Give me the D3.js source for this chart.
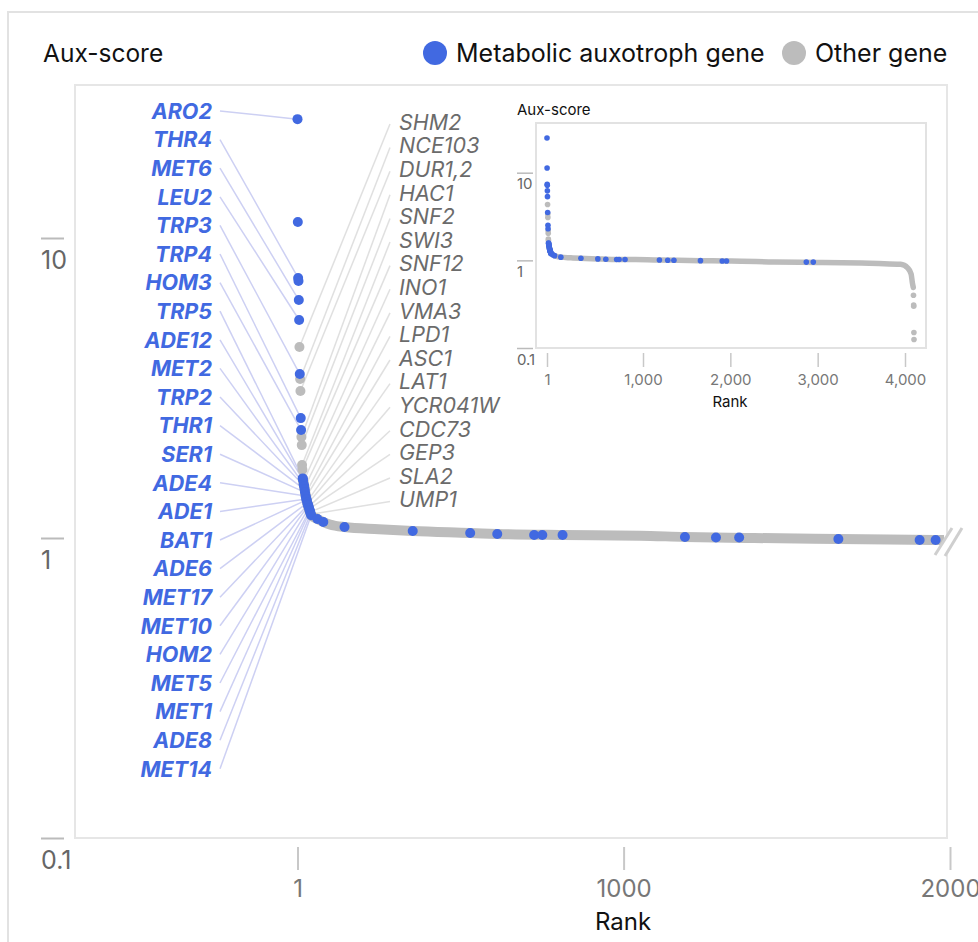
<!DOCTYPE html>
<html><head><meta charset="utf-8">
<script src="https://cdn.jsdelivr.net/npm/d3@7"></script>
<style>
html,body{margin:0;padding:0;background:#fff;}
svg{display:block;font-family:Inter,"Noto Sans",sans-serif;}
</style></head><body>
<svg id="chart" width="978" height="942"></svg>
<script>
// ---------------- DATA ----------------
// Top-ranked genes (rank = index + 1)
const topScores = [24.9, 11.3, 7.36, 7.19, 6.21, 5.33, 4.33, 3.52, 3.39, 3.09, 2.51, 2.29, 2.17, 2.04, 1.75, 1.69,
  1.58, 1.56, 1.54, 1.51, 1.49, 1.47, 1.45, 1.42, 1.40, 1.38, 1.37, 1.35, 1.34, 1.32, 1.31, 1.30, 1.29, 1.28,
  1.27, 1.26, 1.25, 1.24, 1.23, 1.22, 1.21, 1.20, 1.19];
const topTypes = ["aux","aux","aux","aux","aux","aux","other","aux","other","other","aux","aux","other","other","other","other",
  "aux","aux","other","aux","aux","other","aux","aux","other","aux","other","aux","aux","other","aux","other","aux","aux",
  "other","aux","other","aux","aux","other","aux","other","aux"];
const topLabels = ["ARO2","","THR4","","MET6","LEU2","SHM2","TRP3","NCE103","DUR1,2","TRP4","HOM3","HAC1","SNF2","SWI3","SNF12",
  "TRP5","ADE12","INO1","MET2","TRP2","VMA3","THR1","SER1","LPD1","ADE4","ASC1","ADE1","BAT1","LAT1","ADE6","YCR041W","MET17","MET10",
  "CDC73","HOM2","GEP3","MET5","MET1","SLA2","ADE8","UMP1","MET14"];

// Metabolic auxotroph genes further down the ranking
const lineAuxRanks  = [62, 80, 145, 354, 530, 613, 726, 751, 813, 1188, 1283, 1354, 1658, 1907, 1956, 2870, 2950];
const lineAuxScores = [1.157, 1.131, 1.088, 1.055, 1.039, 1.031, 1.023, 1.023, 1.023, 1.008, 1.004, 1.004, 0.992, 0.985, 0.985, 0.955, 0.955];

// Dense band of other genes
const bandRanks  = [17, 30, 43, 50, 62, 80, 100, 145, 250, 354, 530, 613, 813, 1050, 1188, 1400, 1658, 1956, 2010, 2500, 3000, 3500, 3700, 3950, 4030, 4070, 4085, 4095];
const bandScores = [1.58, 1.32, 1.19, 1.175, 1.157, 1.131, 1.11, 1.088, 1.07, 1.055, 1.039, 1.031, 1.023, 1.018, 1.008, 1.0, 0.992, 0.985, 0.984, 0.96, 0.945, 0.93, 0.92, 0.90, 0.82, 0.70, 0.55, 0.49];

// Lowest-ranked genes
const tailRanks  = [4097, 4099, 4100, 4102, 4103];
const tailScores = [0.40, 0.31, 0.30, 0.15, 0.125];

const yTickValues = [0.1, 1, 10];
const xTickValues = [1, 1000, 2000];
const insetXTickValues = [1, 1000, 2000, 3000, 4000];
const legendItems = ["Metabolic auxotroph gene", "Other gene"];

// ---------------- BUILD ----------------
const BLUE = "#4169e1", GREY = "#bcbcbc";
const topGenes = topScores.map((s, i) => ({rank: i + 1, score: s, type: topTypes[i], label: topLabels[i]}));
const lineGenes = lineAuxRanks.map((r, i) => ({rank: r, score: lineAuxScores[i], type: "aux", label: ""}));
const tailGenes = tailRanks.map((r, i) => ({rank: r, score: tailScores[i], type: "other", label: ""}));
const allGenes = topGenes.concat(lineGenes, tailGenes);
const band = bandRanks.map((r, i) => ({rank: r, score: bandScores[i]}));

const svg = d3.select("#chart");

// outer card
svg.append("rect").attr("x", 8).attr("y", 12).attr("width", 1000).attr("height", 960)
  .attr("fill", "none").attr("stroke", "#e2e2e2").attr("stroke-width", 2);

// title + legend
svg.append("text").attr("x", 43).attr("y", 62).attr("font-size", 24.5).attr("fill", "#111").text("Aux-score");
const legendX = [435, 794];
legendItems.forEach((t, i) => {
  svg.append("circle").attr("cx", legendX[i]).attr("cy", 53).attr("r", 12).attr("fill", i === 0 ? BLUE : GREY);
  svg.append("text").attr("x", legendX[i] + 21).attr("y", 62).attr("font-size", 25).attr("fill", "#111").text(t);
});

// main scales
const x = d3.scaleLinear().domain([1, 2000]).range([297.5, 950]);
const y = d3.scaleLog().domain([0.1, 10]).range([838, 238]);

// main frame
svg.append("rect").attr("x", 75).attr("y", 85).attr("width", 872).attr("height", 753)
  .attr("fill", "none").attr("stroke", "#e6e6e6").attr("stroke-width", 2);

// y axis
const yAx = svg.append("g").attr("transform", "translate(41,0)")
  .call(d3.axisRight(y).tickValues(yTickValues).tickSize(23).tickFormat(d3.format("~g")));
yAx.select(".domain").remove();
yAx.selectAll(".tick line").attr("stroke", "#bbb").attr("stroke-width", 2);
yAx.selectAll(".tick text").attr("x", 0).attr("dy", 30).attr("text-anchor", "start")
  .attr("font-size", 25).attr("font-family", "Inter").attr("fill", "#666");

// x axis
const xAx = svg.append("g").attr("transform", "translate(0,847)")
  .call(d3.axisBottom(x).tickValues(xTickValues).tickSize(23).tickFormat(d3.format("d")));
xAx.select(".domain").remove();
xAx.selectAll(".tick line").attr("stroke", "#c8c8c8").attr("stroke-width", 2);
xAx.selectAll(".tick text").attr("y", 50).attr("dy", 0).attr("font-size", 24)
  .attr("font-family", "Inter").attr("fill", "#777");
svg.append("text").attr("x", 623).attr("y", 930).attr("text-anchor", "middle").attr("font-size", 24)
  .attr("fill", "#111").text("Rank");

// clip for main plot
svg.append("clipPath").attr("id", "mainClip").append("rect").attr("x", 76).attr("y", 86).attr("width", 868).attr("height", 751);

// leader lines + labels
const blueLabeled = topGenes.filter(d => d.label && d.type === "aux");
const greyLabeled = topGenes.filter(d => d.label && d.type === "other");
const gLines = svg.append("g");
greyLabeled.forEach((d, k) => {
  const ly = 122 + k * 23.6;
  gLines.append("line").attr("x1", 390).attr("y1", ly + 2).attr("x2", x(d.rank)).attr("y2", y(d.score))
    .attr("stroke", "#e0e0e0").attr("stroke-width", 1.5);
  svg.append("text").attr("x", 399).attr("y", ly).attr("dy", "0.36em").attr("font-size", 21.5)
    .attr("font-style", "italic").attr("fill", "#6b6b6b").text(d.label);
});
blueLabeled.forEach((d, k) => {
  const ly = 111 + k * 28.6;
  gLines.append("line").attr("x1", 220).attr("y1", ly).attr("x2", x(d.rank)).attr("y2", y(d.score))
    .attr("stroke", "#cdd0f3").attr("stroke-width", 1.5);
  svg.append("text").attr("x", 212).attr("y", ly).attr("dy", "0.36em").attr("text-anchor", "end")
    .attr("font-size", 21.5).attr("font-weight", 700).attr("font-style", "italic").attr("fill", BLUE).text(d.label);
});

// band + dots (main)
const gMain = svg.append("g").attr("clip-path", "url(#mainClip)");
const lineMain = d3.line().x(d => x(d.rank)).y(d => y(d.score)).curve(d3.curveMonotoneX);
gMain.append("path").datum(band).attr("d", lineMain).attr("fill", "none").attr("stroke", GREY)
  .attr("stroke-width", 10).attr("stroke-linecap", "round");
const inMain = allGenes.filter(d => d.rank <= 2000);
gMain.selectAll("circle.o").data(inMain.filter(d => d.type === "other")).join("circle")
  .attr("cx", d => x(d.rank)).attr("cy", d => y(d.score)).attr("r", 5).attr("fill", GREY);
gMain.selectAll("circle.a").data(inMain.filter(d => d.type === "aux")).join("circle")
  .attr("cx", d => x(d.rank)).attr("cy", d => y(d.score)).attr("r", 5).attr("fill", BLUE);

// axis break mark
svg.append("line").attr("x1", 936).attr("y1", 558).attr("x2", 966).attr("y2", 526).attr("stroke", "#fff").attr("stroke-width", 12);
svg.append("line").attr("x1", 935).attr("y1", 555).attr("x2", 952).attr("y2", 528).attr("stroke", "#cfcfcf").attr("stroke-width", 3);
svg.append("line").attr("x1", 945).attr("y1", 556).attr("x2", 962).attr("y2", 528).attr("stroke", "#cfcfcf").attr("stroke-width", 3);

// ---------------- INSET ----------------
const xi = d3.scaleLinear().domain([1, 1000, 4000]).range([547, 643, 905]);
const yi = d3.scaleLog().domain([0.1, 10]).range([348, 172.7]);
const gi = svg.append("g");
gi.append("rect").attr("x", 536).attr("y", 123).attr("width", 390).attr("height", 225)
  .attr("fill", "#fff").attr("stroke", "#e2e2e2").attr("stroke-width", 2);
gi.append("text").attr("x", 517).attr("y", 115).attr("font-size", 15).attr("fill", "#111").text("Aux-score");
const yiAx = gi.append("g").attr("transform", "translate(517,0)")
  .call(d3.axisRight(yi).tickValues(yTickValues).tickSize(16).tickFormat(d3.format("~g")));
yiAx.select(".domain").remove();
yiAx.selectAll(".tick line").attr("stroke", "#bbb").attr("stroke-width", 1.5);
yiAx.selectAll(".tick text").attr("x", 0).attr("dy", 16).attr("text-anchor", "start")
  .attr("font-size", 15).attr("font-family", "Inter").attr("fill", "#666");
const xiAx = gi.append("g").attr("transform", "translate(0,353)")
  .call(d3.axisBottom(xi).tickValues(insetXTickValues).tickSize(14).tickFormat(d3.format(",")));
xiAx.select(".domain").remove();
xiAx.selectAll(".tick line").attr("stroke", "#c8c8c8").attr("stroke-width", 1.5);
xiAx.selectAll(".tick text").attr("y", 32).attr("dy", 0).attr("font-size", 15)
  .attr("font-family", "Inter").attr("fill", "#777");
gi.append("text").attr("x", 730).attr("y", 407).attr("text-anchor", "middle").attr("font-size", 15)
  .attr("fill", "#111").text("Rank");
const lineInset = d3.line().x(d => xi(d.rank)).y(d => yi(d.score)).curve(d3.curveMonotoneX);
gi.append("path").datum(band).attr("d", lineInset).attr("fill", "none").attr("stroke", GREY)
  .attr("stroke-width", 5.5).attr("stroke-linecap", "round");
gi.selectAll("circle.o").data(allGenes.filter(d => d.type === "other")).join("circle")
  .attr("cx", d => xi(d.rank)).attr("cy", d => yi(d.score)).attr("r", 2.8).attr("fill", GREY);
gi.selectAll("circle.a").data(allGenes.filter(d => d.type === "aux")).join("circle")
  .attr("cx", d => xi(d.rank)).attr("cy", d => yi(d.score)).attr("r", 2.8).attr("fill", BLUE);
</script>
</body></html>
